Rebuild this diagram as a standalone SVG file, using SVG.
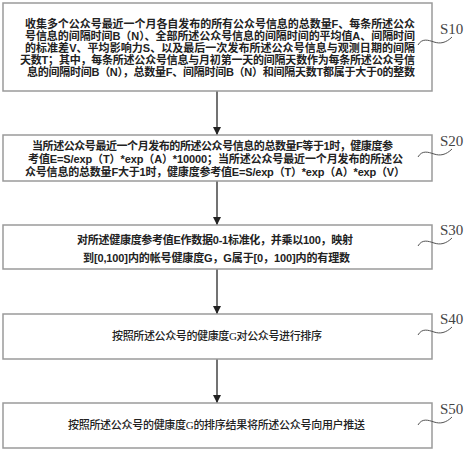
<svg xmlns="http://www.w3.org/2000/svg" width="465" height="450" viewBox="0 0 465 450">
<defs>
<marker id="arr" markerWidth="8" markerHeight="8" refX="8" refY="4" orient="auto" markerUnits="userSpaceOnUse">
<path d="M0,0 L8,4 L0,8 Z" fill="#222"/>
</marker>
<style>
.box{fill:#fff;stroke:#9a9a9a;stroke-width:1.5}
.t{font-family:"Liberation Sans","Noto Sans CJK SC",sans-serif;font-size:11px;fill:#222;font-weight:bold}
.tn{font-family:"Liberation Serif","Noto Sans CJK SC",serif;font-size:11px;fill:#222;font-weight:500}
.lbl{font-family:"Liberation Serif",serif;font-size:15px;fill:#444}
.lead{fill:none;stroke:#555;stroke-width:1}
.con{stroke:#444;stroke-width:1.5;fill:none}
</style>
</defs>
<rect width="465" height="450" fill="#fff"/>
<g id="connectors">
<line class="con" x1="217" y1="91" x2="217" y2="135" marker-end="url(#arr)"/>
<line class="con" x1="217" y1="181" x2="217" y2="225" marker-end="url(#arr)"/>
<line class="con" x1="217" y1="269" x2="217" y2="314" marker-end="url(#arr)"/>
<line class="con" x1="217" y1="359" x2="217" y2="403" marker-end="url(#arr)"/>
</g>
<g id="S10">
<rect class="box" x="3" y="3" width="429" height="88"/>
<text class="t" x="25" y="28" textLength="390" lengthAdjust="spacing">收集多个公众号最近一个月各自发布的所有公众号信息的总数量F、每条所述公众</text>
<text class="t" x="25" y="40" textLength="390" lengthAdjust="spacing">号信息的间隔时间B（N）、全部所述公众号信息的间隔时间的平均值A、间隔时间</text>
<text class="t" x="25" y="52" textLength="390" lengthAdjust="spacing">的标准差V、平均影响力S、以及最后一次发布所述公众号信息与观测日期的间隔</text>
<text class="t" x="20" y="64" textLength="395" lengthAdjust="spacing">天数T；其中，每条所述公众号信息与月初第一天的间隔天数作为每条所述公众号信</text>
<text class="t" x="27" y="76" textLength="388" lengthAdjust="spacing">息的间隔时间B（N），总数量F、间隔时间B（N）和间隔天数T都属于大于0的整数</text>
<path class="lead" d="M418,45 C422,38 428,40 434,42 C440,44 446,43 452,37"/>
<text class="lbl" x="440" y="34">S10</text>
</g>
<g id="S20">
<rect class="box" x="3" y="135" width="429" height="46"/>
<text class="t" x="32" y="150" textLength="361" lengthAdjust="spacing">当所述公众号最近一个月发布的所述公众号信息的总数量F等于1时，健康度参</text>
<text class="t" x="28" y="163" textLength="375" lengthAdjust="spacing">考值E=S/exp（T）*exp（A）*10000；当所述公众号最近一个月发布的所述公</text>
<text class="t" x="25" y="176" textLength="380" lengthAdjust="spacing">众号信息的总数量F大于1时，健康度参考值E=S/exp（T）*exp（A）*exp（V）</text>
<path class="lead" d="M418,157 C422,150 428,152 434,154 C440,156 446,155 452,149"/>
<text class="lbl" x="440" y="146">S20</text>
</g>
<g id="S30">
<rect class="box" x="3" y="225" width="429" height="44"/>
<text class="t" x="77" y="244" textLength="276" lengthAdjust="spacing">对所述健康度参考值E作数据0-1标准化，并乘以100，映射</text>
<text class="t" x="83" y="262" textLength="267" lengthAdjust="spacing">到[0,100]内的帐号健康度G，G属于[0，100]内的有理数</text>
<path class="lead" d="M418,246 C422,239 428,241 434,243 C440,245 446,244 452,238"/>
<text class="lbl" x="440" y="235">S30</text>
</g>
<g id="S40">
<rect class="box" x="3" y="314" width="429" height="45"/>
<text class="tn" x="112" y="340" textLength="210" lengthAdjust="spacing">按照所述公众号的健康度G对公众号进行排序</text>
<path class="lead" d="M418,335 C422,328 428,330 434,332 C440,334 446,333 452,327"/>
<text class="lbl" x="440" y="324">S40</text>
</g>
<g id="S50">
<rect class="box" x="3" y="403" width="429" height="45"/>
<text class="tn" x="68" y="429" textLength="297" lengthAdjust="spacing">按照所述公众号的健康度G的排序结果将所述公众号向用户推送</text>
<path class="lead" d="M418,425 C422,418 428,420 434,422 C440,424 446,423 452,417"/>
<text class="lbl" x="440" y="414">S50</text>
</g>
</svg>
